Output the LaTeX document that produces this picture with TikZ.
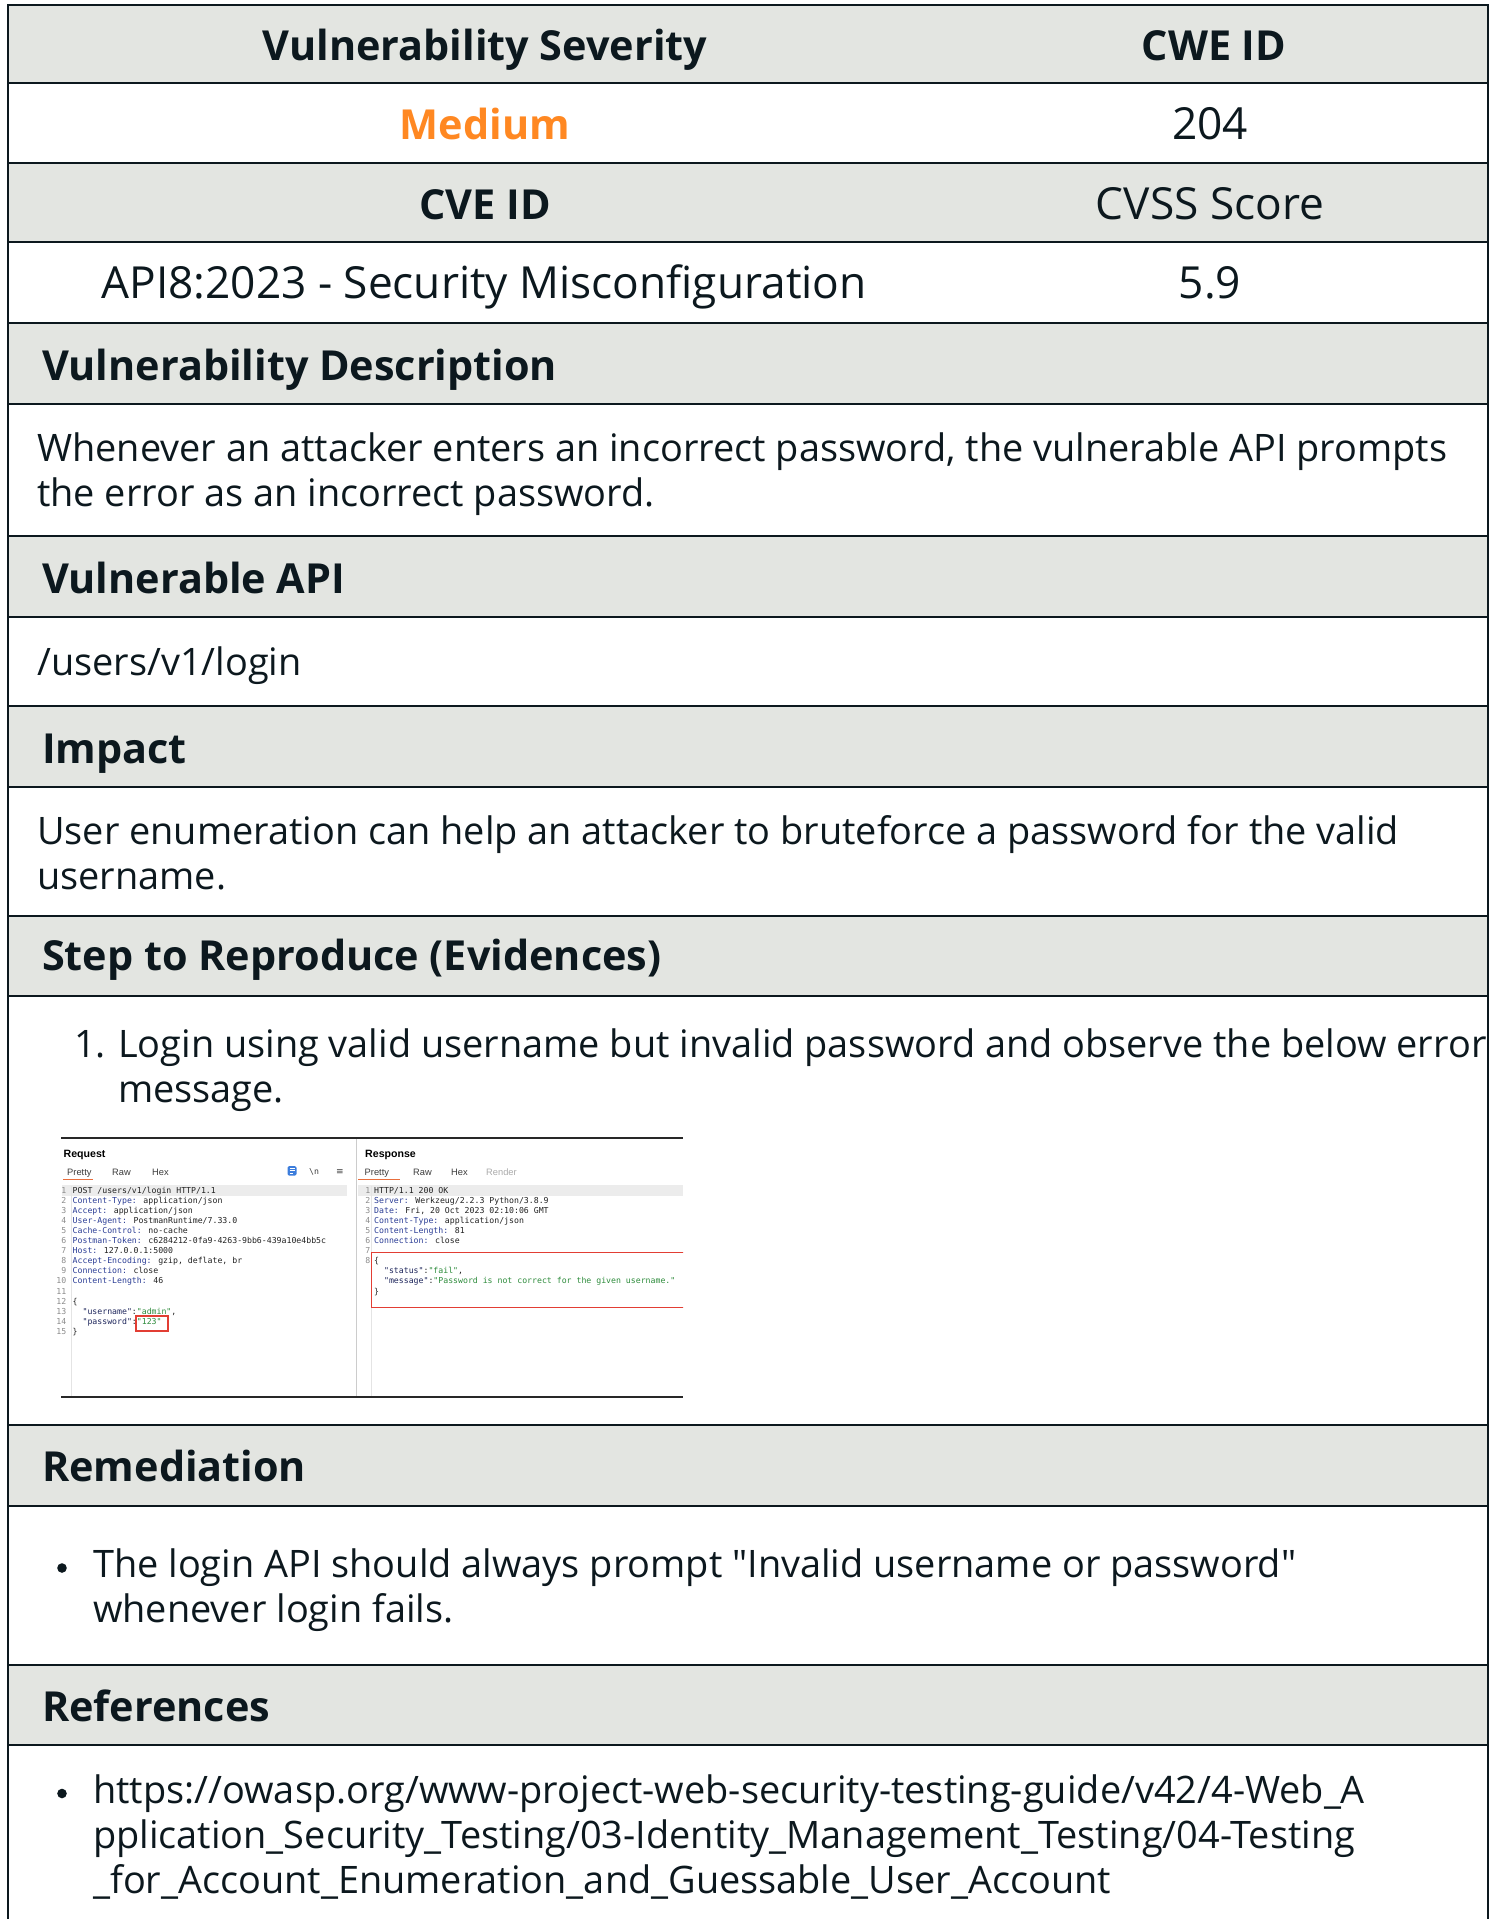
\documentclass[tikz,border=0pt]{standalone}
\usepackage{fontspec}
\setmainfont{Open Sans}
\newfontfamily\monof{DejaVu Sans Mono}
\newfontfamily\shotf{Liberation Sans}
\newfontfamily\symf{DejaVu Sans}
\newlength\measw
\newcommand\qmark{\XeTeXglyph\XeTeXcharglyph"22\relax}
\AtBeginDocument{%
\settowidth\measw{\fontsize{20}{20}\selectfont Whenever an attacker enters an incorrect password, the vulnerable API prompts}%
\pgfmathsetmacro\bodysize{1410/\measw*20}%
\settowidth\measw{\fontsize{20}{20}\selectfont\bfseries Vulnerability Description}%
\pgfmathsetmacro\headsize{515/\measw*20}%
\settowidth\measw{\fontsize{20}{20}\selectfont API8:2023 - Security Misconfiguration}%
\pgfmathsetmacro\tablesize{765/\measw*20}%
}
\definecolor{hdrfill}{RGB}{227,229,225}
\definecolor{ink}{RGB}{12,24,30}
\definecolor{orng}{RGB}{255,136,34}
\definecolor{keyblue}{RGB}{44,62,150}
\definecolor{jsonkey}{RGB}{30,38,92}
\definecolor{strgreen}{RGB}{46,140,60}
\definecolor{redbox}{RGB}{226,62,52}
\definecolor{lnum}{RGB}{140,140,140}
\definecolor{hilite}{RGB}{236,236,236}
\definecolor{tabink}{RGB}{60,60,60}
\definecolor{tabdim}{RGB}{170,170,170}
\definecolor{tabline}{RGB}{232,110,60}
\definecolor{codeink}{RGB}{34,34,34}
\definecolor{gutter}{RGB}{228,228,228}
\definecolor{shotrule}{RGB}{40,40,40}
\definecolor{iconblue}{RGB}{60,125,220}
\tikzset{
  rule/.style={draw=ink, line width=2.6pt, line cap=rect},
  bodytxt/.style={inner sep=0pt, anchor=base west, text=ink, font=\fontsize{\bodysize}{\bodysize}\selectfont},
  tabletxt/.style={inner sep=0pt, anchor=base, text=ink, font=\fontsize{\tablesize}{\tablesize}\selectfont},
  headtxt/.style={inner sep=0pt, anchor=base west, text=ink, font=\bfseries\fontsize{\headsize}{\headsize}\selectfont},
  headc/.style={headtxt, anchor=base},
  codeln/.style={inner sep=0pt, anchor=base west, text=codeink, font=\monof\fontsize{8.2}{8.2}\selectfont},
  lno/.style={codeln, anchor=base east, text=lnum},
  tablbl/.style={inner sep=0pt, anchor=base west, text=tabink, font=\shotf\fontsize{9.3}{9.3}\selectfont},
  ptitle/.style={inner sep=0pt, anchor=base west, text=black, font=\shotf\bfseries\fontsize{10.6}{10.6}\selectfont},
  bul/.style={fill=ink},
}
\begin{document}
\begin{tikzpicture}[x=1pt,y=-1pt]
\useasboundingbox (0,0) rectangle (1492,1919);
\fill[white] (0,0) rectangle (1492,1919);
% header fills
\foreach \a/\b in {5/83,163/242,323/404,536/617,706/787,916/996,1425/1506,1665/1745}
  \fill[hdrfill] (8,\a) rectangle (1488,\b);
% rules
\foreach \yy in {5,83,163,242,323,404,536,617,706,787,916,996,1425,1506,1665,1745}
  \draw[rule] (8,\yy) -- (1488,\yy);
\draw[rule] (8,5) -- (8,1919);
\draw[rule] (1488,5) -- (1488,1919);

% top table
\node[headc] (hsev) at (485,60) {Vulnerability Severity};
\node[headc] (hcwe) at (1214,60) {CWE ID};
\node[headc, text=orng] (vmed) at (485,139) {Medium};
\node[tabletxt] (vcwe) at (1210,139) {204};
\node[headc] (hcve) at (485,219) {CVE ID};
\node[tabletxt] (hcvss) at (1210,219) {CVSS Score};
\node[tabletxt] (vcve) at (484,298) {API8:2023 - Security Misconfiguration};
\node[tabletxt] (vcvss) at (1210,298) {5.9};

% sections
\node[headtxt] (hdesc) at (42,380) {Vulnerability Description};
\node[bodytxt] (desc1) at (37,461) {Whenever an attacker enters an incorrect password, the vulnerable API prompts};
\node[bodytxt] (desc2) at (37,506) {the error as an incorrect password.};
\node[headtxt] (hapi) at (42,593) {Vulnerable API};
\node[bodytxt] (api) at (37,675) {/users/v1/login};
\node[headtxt] (himp) at (42,763) {Impact};
\node[bodytxt] (imp1) at (37,844) {User enumeration can help an attacker to bruteforce a password for the valid};
\node[bodytxt] (imp2) at (37,889) {username.};
\node[headtxt] (hstep) at (42,970) {Step to Reproduce (Evidences)};
\node[bodytxt] (num1) at (74,1057) {1.};
\node[bodytxt] (step1) at (118,1057) {Login using valid username but invalid password and observe the below error};
\node[bodytxt] (step2) at (118,1102) {message.};
\node[headtxt] (hrem) at (42,1481) {Remediation};
\fill[bul] (62,1568) circle (4.8);
\node[bodytxt] (rem1) at (93,1577) {The login API should always prompt \qmark Invalid username or password\qmark};
\node[bodytxt] (rem2) at (93,1622) {whenever login fails.};
\node[headtxt] (href) at (42,1721) {References};
\fill[bul] (62,1793.5) circle (4.8);
\node[bodytxt] (ref1) at (93,1803) {https://owasp.org/www-project-web-security-testing-guide/v42/4-Web\_A};
\node[bodytxt] (ref2) at (93,1848) {pplication\_Security\_Testing/03-Identity\_Management\_Testing/04-Testing};
\node[bodytxt] (ref3) at (93,1893) {\_for\_Account\_Enumeration\_and\_Guessable\_User\_Account};

% screenshot
\begin{scope}
\clip (57.5,1137) rectangle (683,1398);
\fill[hilite] (62,1184.5) rectangle (347,1195.5);
\fill[hilite] (358,1184.5) rectangle (683,1195.5);
\draw[gutter, line width=0.8pt] (71,1186) -- (71,1397);
\draw[gutter, line width=0.8pt] (371.5,1186) -- (371.5,1397);
\draw[black!20, line width=1pt] (356,1139) -- (356,1396);
% left panel
\node[ptitle] (reqt) at (63.5,1157.3) {Request};
\node[tablbl] (lt1) at (67,1175) {Pretty};
\node[tablbl] (lt2) at (112,1175) {Raw};
\node[tablbl] (lt3) at (152,1175) {Hex};
\draw[tabline, line width=1.6pt] (63,1179.5) -- (93,1179.5);
\fill[iconblue, rounded corners=1.5pt] (287.5,1166) rectangle (296.5,1175.5);
\draw[white, line width=0.7pt] (289.5,1168.5) -- (294.5,1168.5) (289.5,1170.8) -- (294.5,1170.8) (289.5,1173.1) -- (292.5,1173.1);
\node[codeln, text=tabink] (nl) at (309,1174) {\textbackslash n};
\node[inner sep=0pt, anchor=base west, text=tabink, font=\symf\fontsize{9}{9}\selectfont] (menu) at (336,1174.5) {≡};
\node[lno] (ln1) at (66.5,1193) {1};
\node[codeln] (lc1) at (72.5,1193) {POST /users/v1/login HTTP/1.1};
\node[lno] (ln2) at (66.5,1203.1) {2};
\node[codeln] (lc2) at (72.5,1203.1) {\textcolor{keyblue}{Content-Type:} application/json};
\node[lno] (ln3) at (66.5,1213.2) {3};
\node[codeln] (lc3) at (72.5,1213.2) {\textcolor{keyblue}{Accept:} application/json};
\node[lno] (ln4) at (66.5,1223.3) {4};
\node[codeln] (lc4) at (72.5,1223.3) {\textcolor{keyblue}{User-Agent:} PostmanRuntime/7.33.0};
\node[lno] (ln5) at (66.5,1233.4) {5};
\node[codeln] (lc5) at (72.5,1233.4) {\textcolor{keyblue}{Cache-Control:} no-cache};
\node[lno] (ln6) at (66.5,1243.5) {6};
\node[codeln] (lc6) at (72.5,1243.5) {\textcolor{keyblue}{Postman-Token:} c6284212-0fa9-4263-9bb6-439a10e4bb5c};
\node[lno] (ln7) at (66.5,1253.6) {7};
\node[codeln] (lc7) at (72.5,1253.6) {\textcolor{keyblue}{Host:} 127.0.0.1:5000};
\node[lno] (ln8) at (66.5,1263.7) {8};
\node[codeln] (lc8) at (72.5,1263.7) {\textcolor{keyblue}{Accept-Encoding:} gzip, deflate, br};
\node[lno] (ln9) at (66.5,1273.8) {9};
\node[codeln] (lc9) at (72.5,1273.8) {\textcolor{keyblue}{Connection:} close};
\node[lno] (ln10) at (66.5,1283.9) {10};
\node[codeln] (lc10) at (72.5,1283.9) {\textcolor{keyblue}{Content-Length:} 46};
\node[lno] (ln11) at (66.5,1294) {11};
\node[lno] (ln12) at (66.5,1304.1) {12};
\node[codeln] (lc12) at (72.5,1304.1) {\{};
\node[lno] (ln13) at (66.5,1314.2) {13};
\node[codeln] (lc13) at (72.5,1314.2) {\ \ \textcolor{jsonkey}{\qmark username\qmark}:\textcolor{strgreen}{\qmark admin\qmark},};
\node[lno] (ln14) at (66.5,1324.3) {14};
\node[codeln] (lc14) at (72.5,1324.3) {\ \ \textcolor{jsonkey}{\qmark password\qmark}:\textcolor{strgreen}{\qmark 123\qmark}};
\node[lno] (ln15) at (66.5,1334.4) {15};
\node[codeln] (lc15) at (72.5,1334.4) {\}};
\draw[redbox, line width=1.6pt] (136,1316) rectangle (168,1331);
% right panel
\node[ptitle] (rest) at (365,1157) {Response};
\node[tablbl] (rt1) at (364.5,1175) {Pretty};
\node[tablbl] (rt2) at (413,1175) {Raw};
\node[tablbl] (rt3) at (451,1175) {Hex};
\node[tablbl, text=tabdim] (rt4) at (486,1175) {Render};
\draw[tabline, line width=1.6pt] (358,1179.5) -- (400,1179.5);
\node[lno] (rn1) at (370.5,1193) {1};
\node[codeln] (rc1) at (374,1193) {HTTP/1.1 200 OK};
\node[lno] (rn2) at (370.5,1203.1) {2};
\node[codeln] (rc2) at (374,1203.1) {\textcolor{keyblue}{Server:} Werkzeug/2.2.3 Python/3.8.9};
\node[lno] (rn3) at (370.5,1213.2) {3};
\node[codeln] (rc3) at (374,1213.2) {\textcolor{keyblue}{Date:} Fri, 20 Oct 2023 02:10:06 GMT};
\node[lno] (rn4) at (370.5,1223.3) {4};
\node[codeln] (rc4) at (374,1223.3) {\textcolor{keyblue}{Content-Type:} application/json};
\node[lno] (rn5) at (370.5,1233.4) {5};
\node[codeln] (rc5) at (374,1233.4) {\textcolor{keyblue}{Content-Length:} 81};
\node[lno] (rn6) at (370.5,1243.5) {6};
\node[codeln] (rc6) at (374,1243.5) {\textcolor{keyblue}{Connection:} close};
\node[lno] (rn7) at (370.5,1253.6) {7};
\node[lno] (rn8) at (370.5,1263.7) {8};
\node[codeln] (rc8) at (374,1263.7) {\{};
\node[codeln] (rc9) at (374,1273.8) {\ \ \textcolor{jsonkey}{\qmark status\qmark}:\textcolor{strgreen}{\qmark fail\qmark},};
\node[codeln] (rc10) at (374,1283.9) {\ \ \textcolor{jsonkey}{\qmark message\qmark}:\textcolor{strgreen}{\qmark Password is not correct for the given username.\qmark}};
\node[codeln] (rc11) at (374,1294) {\}};
\draw[redbox, line width=1.8pt] (690,1252.5) -- (371.5,1252.5) -- (371.5,1307.5) -- (690,1307.5);
\end{scope}
\draw[shotrule, line width=2.2pt] (61,1138) -- (683,1138);
\draw[shotrule, line width=2.4pt] (61,1397) -- (683,1397);
\end{tikzpicture}
\end{document}
